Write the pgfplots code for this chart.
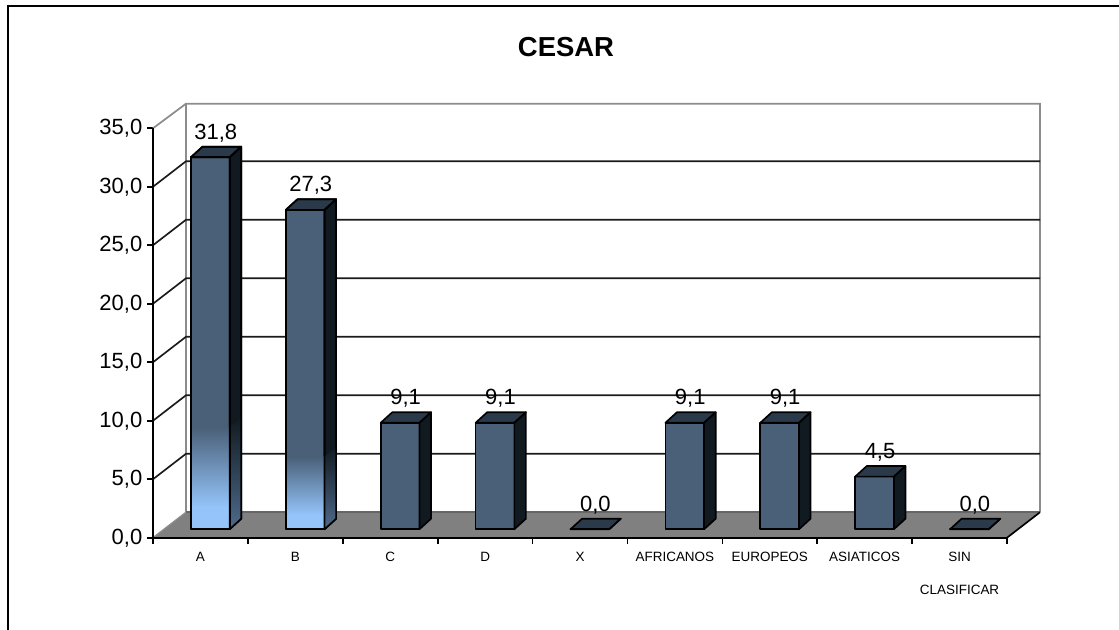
\documentclass[border=0pt]{standalone}
\usepackage{fontspec}
\setmainfont{Liberation Sans}
\usepackage{pgfplots}
\usepackage{pgfplotstable}
\pgfplotsset{compat=1.18}

\definecolor{barfront}{HTML}{4A6078}
\definecolor{barlight}{HTML}{94C4FA}
\definecolor{bartop}{HTML}{2B3A4B}
\definecolor{barside}{HTML}{111A20}
\definecolor{sidelight}{HTML}{4F6B8C}
\definecolor{wallgray}{HTML}{8C8C8C}
\definecolor{floorgray}{HTML}{808080}
\definecolor{floorback}{HTML}{666666}
\definecolor{gridblack}{HTML}{1A1A1A}

\pgfplotstableread{
i v
0 31.8
1 27.3
2 9.1
3 9.1
4 0.0
5 9.1
6 9.1
7 4.5
8 0.0
}\cesar

% oblique depth of the chart box and of each bar, in axis units
\def\wallx{0.348}
\def\wally{2.18}
\def\basey{0.726}
\def\barx{0.40}
\def\barw{0.408}
\def\sidex{0.122}
\def\sidey{0.9}

\newcommand\barcorners[2]{%
  \pgfmathsetmacro\xa{#1+\barx}%
  \pgfmathsetmacro\xb{\xa+\barw}%
  \pgfmathsetmacro\xc{\xb+\sidex}%
  \pgfmathsetmacro\xd{\xa+\sidex}%
  \pgfmathsetmacro\ya{\basey}%
  \pgfmathsetmacro\yb{\basey+#2}%
  \pgfmathsetmacro\yc{\yb+\sidey}%
  \pgfmathsetmacro\yd{\ya+\sidey}%
}
\newcommand\baroutline[2]{%
  \barcorners{#1}{#2}%
  \addplot[draw=black, line width=1.25pt, line join=round] coordinates {(\xa,\ya)(\xb,\ya)(\xb,\yb)(\xa,\yb)} -- cycle;
  \addplot[draw=black, line width=1.25pt, line join=round] coordinates {(\xb,\ya)(\xc,\yd)(\xc,\yc)(\xb,\yb)} -- cycle;
  \addplot[draw=black, line width=1.25pt, line join=round] coordinates {(\xa,\yb)(\xb,\yb)(\xc,\yc)(\xd,\yc)} -- cycle;
}
\newcommand\barbox[2]{%
  \barcorners{#1}{#2}%
  \addplot[fill=barfront, draw=none] coordinates {(\xa,\ya)(\xb,\ya)(\xb,\yb)(\xa,\yb)} -- cycle;
  \addplot[fill=barside, draw=none] coordinates {(\xb,\ya)(\xc,\yd)(\xc,\yc)(\xb,\yb)} -- cycle;
  \addplot[fill=bartop, draw=none] coordinates {(\xa,\yb)(\xb,\yb)(\xc,\yc)(\xd,\yc)} -- cycle;
  \baroutline{#1}{#2}%
}
% light lower part of a bar: #2 = top of the fade, #3 = top of the solid light foot
\newcommand\barshade[3]{%
  \barcorners{#1}{0}%
  \pgfmathsetmacro\gt{\basey+#2}%
  \pgfmathsetmacro\gb{\basey+#3}%
  \pgfmathsetmacro\gtd{\gt+\sidey}%
  \addplot[draw=none, top color=barfront, bottom color=barlight] coordinates {(\xa,\gb)(\xb,\gb)(\xb,\gt)(\xa,\gt)} -- cycle;
  \addplot[draw=none, fill=barlight] coordinates {(\xa,\ya)(\xb,\ya)(\xb,\gb)(\xa,\gb)} -- cycle;
  \addplot[draw=none, top color=barside, bottom color=sidelight] coordinates {(\xb,\ya)(\xc,\yd)(\xc,\gtd)(\xb,\gt)} -- cycle;
}

\begin{document}
\begin{tikzpicture}
  \path[use as bounding box] (0pt,0pt) rectangle (839.25pt,472.5pt);
  % page frame, open at the bottom and the right
  \draw[black, line width=1.7pt] (6pt,0pt) -- (6pt,468pt) -- (839.25pt,468pt);
  \begin{axis}[
    at={(114.75pt,69.2pt)}, anchor=south west,
    scale only axis, width=640.5pt, height=307.1pt,
    xmin=0, xmax=9, ymin=0, ymax=35,
    clip=false,
    axis x line*=bottom, axis y line*=left,
    axis line style={-, black, line width=1.25pt},
    tick style={black, line width=1.25pt},
    major tick length=4.5pt,
    tick align=outside,
    xtick={0,...,9}, xticklabels={},
    extra x ticks={0.5,1.5,2.5,3.5,4.5,5.5,6.5,7.5,8.5},
    extra x tick labels={A,B,C,D,X,AFRICANOS,EUROPEOS,ASIATICOS,{SIN\\[13.5pt]CLASIFICAR}},
    extra x tick style={major tick length=0pt,
      tick label style={font=\fontsize{10.1}{11}\selectfont, align=center, anchor=north, yshift=-7.5pt}},
    ytick={0,5,...,35},
    yticklabel style={font=\fontsize{16.5}{18}\selectfont},
    /pgf/number format/.cd, fixed, fixed zerofill, precision=1, use comma, assume math mode=true,
    /pgfplots/.cd,
    title=CESAR,
    title style={font=\bfseries\fontsize{20.6}{22}\selectfont, at={(0.4836,1.178)}, anchor=center},
  ]
    % back and side walls
    \addplot[draw=wallgray, line width=1.3pt] coordinates {(0,35)(\wallx,37.1)(9.348,37.1)(9.348,2.18)};
    \addplot[draw=wallgray, line width=1.3pt] coordinates {(\wallx,37.1)(\wallx,2.18)};
    % horizontal grid: along the back wall, then slanting forward to the value axis
    \pgfplotsinvokeforeach{5,10,15,20,25,30}{
      \addplot[draw=gridblack, line width=1.25pt] coordinates {(0,#1)(\wallx,#1+2.18)(9.348,#1+2.18)};
    }
    % floor
    \addplot[fill=floorgray, draw=none] coordinates {(0,0)(9,0)(9.348,2.18)(\wallx,2.18)} -- cycle;
    \addplot[draw=floorback, line width=1.2pt] coordinates {(\wallx,2.18)(9.348,2.18)};
    \addplot[draw=wallgray, line width=1pt] coordinates {(0,0)(\wallx,2.18)};
    \addplot[draw=black, line width=1.25pt] coordinates {(9,0)(9.348,2.18)};
    % bars
    \pgfplotsinvokeforeach{0,...,8}{
      \pgfplotstablegetelem{#1}{v}\of\cesar
      \let\barvalue\pgfplotsretval
      \barbox{#1}{\barvalue}
    }
    \barshade{0}{8.7}{1.9}
    \baroutline{0}{31.8}
    \barshade{1}{6.2}{1.2}
    \baroutline{1}{27.3}
    % value labels
    \addplot[draw=none, mark=none, point meta=explicit,
      nodes near coords,
      every node near coord/.style={anchor=center, black, font=\fontsize{16.5}{18}\selectfont, inner sep=0pt}]
      table[x expr=\thisrow{i}+0.662, y expr=\thisrow{v}+2.8, meta=v] {\cesar};
    % front edge of the floor, above the fill
    \addplot[draw=black, line width=1.25pt] coordinates {(0,0)(9,0)};
    \addplot[draw=black, line width=1.25pt] coordinates {(0,0)(0,35)};
  \end{axis}
\end{tikzpicture}
\end{document}
